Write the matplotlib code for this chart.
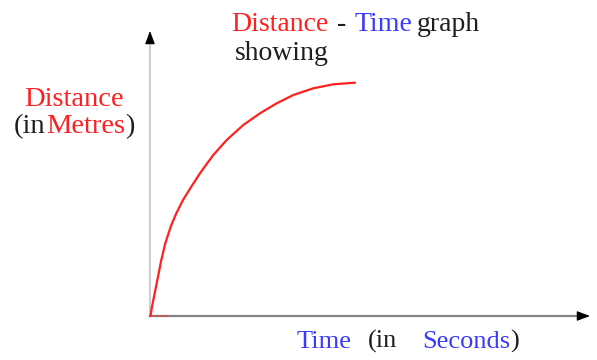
import matplotlib
matplotlib.use('Agg')
import matplotlib.pyplot as plt
import numpy as np

# curve (time, distance in arbitrary units)
time = [0, 0.7, 2, 4.7, 8, 11.3, 15.3, 20.7, 26.3, 33, 41.3, 50.5, 63.3, 76.7,
        93.3, 110, 126.7, 143.3, 163.3, 183.3, 205]
distance = [0, 1, 9.3, 22.7, 39.3, 56, 72.7, 89.3, 102.7, 116, 129.3, 143.5, 161, 176,
            191, 202.7, 212.7, 221, 227.7, 231.7, 233.3]
# faint red smear along the time axis near the origin
smear_t = [0, 18]
smear_d = [0, 0]

RED = '#ff2020'
BLUE = '#3a3aff'
DARK = '#1e1e1e'
W, H = 597, 360

plt.rcParams['font.family'] = ['Liberation Serif', 'DejaVu Serif']

fig = plt.figure(figsize=(W / 100, H / 100), dpi=100)
fig.patch.set_facecolor('white')

def px(x, y):
    return x / W, 1 - y / H

# axes origin at pixel (150, 316), arrow tips at x=590 and y=31
ax = fig.add_axes([150 / W, (H - 316) / H, 440 / W, 285 / H])
ax.set_xlim(0, 440)
ax.set_ylim(0, 285)
ax.axis('off')

# axis lines
ax.plot([0, 0], [0, 280], color='#c4c4c4', lw=1.2, clip_on=False)
ax.plot([0, 435], [0, 0], color='#858585', lw=1.6, clip_on=False)
head = '-|>,head_length=0.8,head_width=0.3'
ax.annotate('', xy=(0, 285), xytext=(0, 275),
            arrowprops=dict(arrowstyle=head, color='black', lw=0.8, shrinkA=0, shrinkB=0),
            annotation_clip=False)
ax.annotate('', xy=(440, 0), xytext=(430, 0),
            arrowprops=dict(arrowstyle=head, color='black', lw=0.8, shrinkA=0, shrinkB=0),
            annotation_clip=False)

ax.plot(smear_t, smear_d, color=RED, lw=1.2, alpha=0.4, clip_on=False)
ax.plot(time, distance, color=RED, lw=1.6, clip_on=False,
        solid_capstyle='round', solid_joinstyle='round')

renderer = fig.canvas.get_renderer()

def words(x, y, pieces, size):
    # pieces: (text, colour, gap in px before it; None = start at x)
    for txt, col, start in pieces:
        if start is not None:
            x = start
        t = fig.text(*px(x, y), txt, color=col, fontsize=size, va='baseline')
        x = x + t.get_window_extent(renderer).width

# title
words(0, 31, [('Distance', RED, 231.7), ('-', DARK, 337), ('Time', BLUE, 355),
              ('graph', DARK, 417)], 20)
words(0, 60, [('showing', DARK, 235)], 20)

# y label
words(0, 106, [('Distance', RED, 24)], 20.5)
words(0, 133, [('(in', DARK, 14), ('Metres', RED, 46.5), (')', DARK, None)], 20.5)

# x label
words(0, 348, [('Time', BLUE, 297), ('(in', DARK, 368), ('Seconds', BLUE, 422.5),
               (')', DARK, None)], 19)

fig.savefig('out.png', dpi=100, facecolor='white')
